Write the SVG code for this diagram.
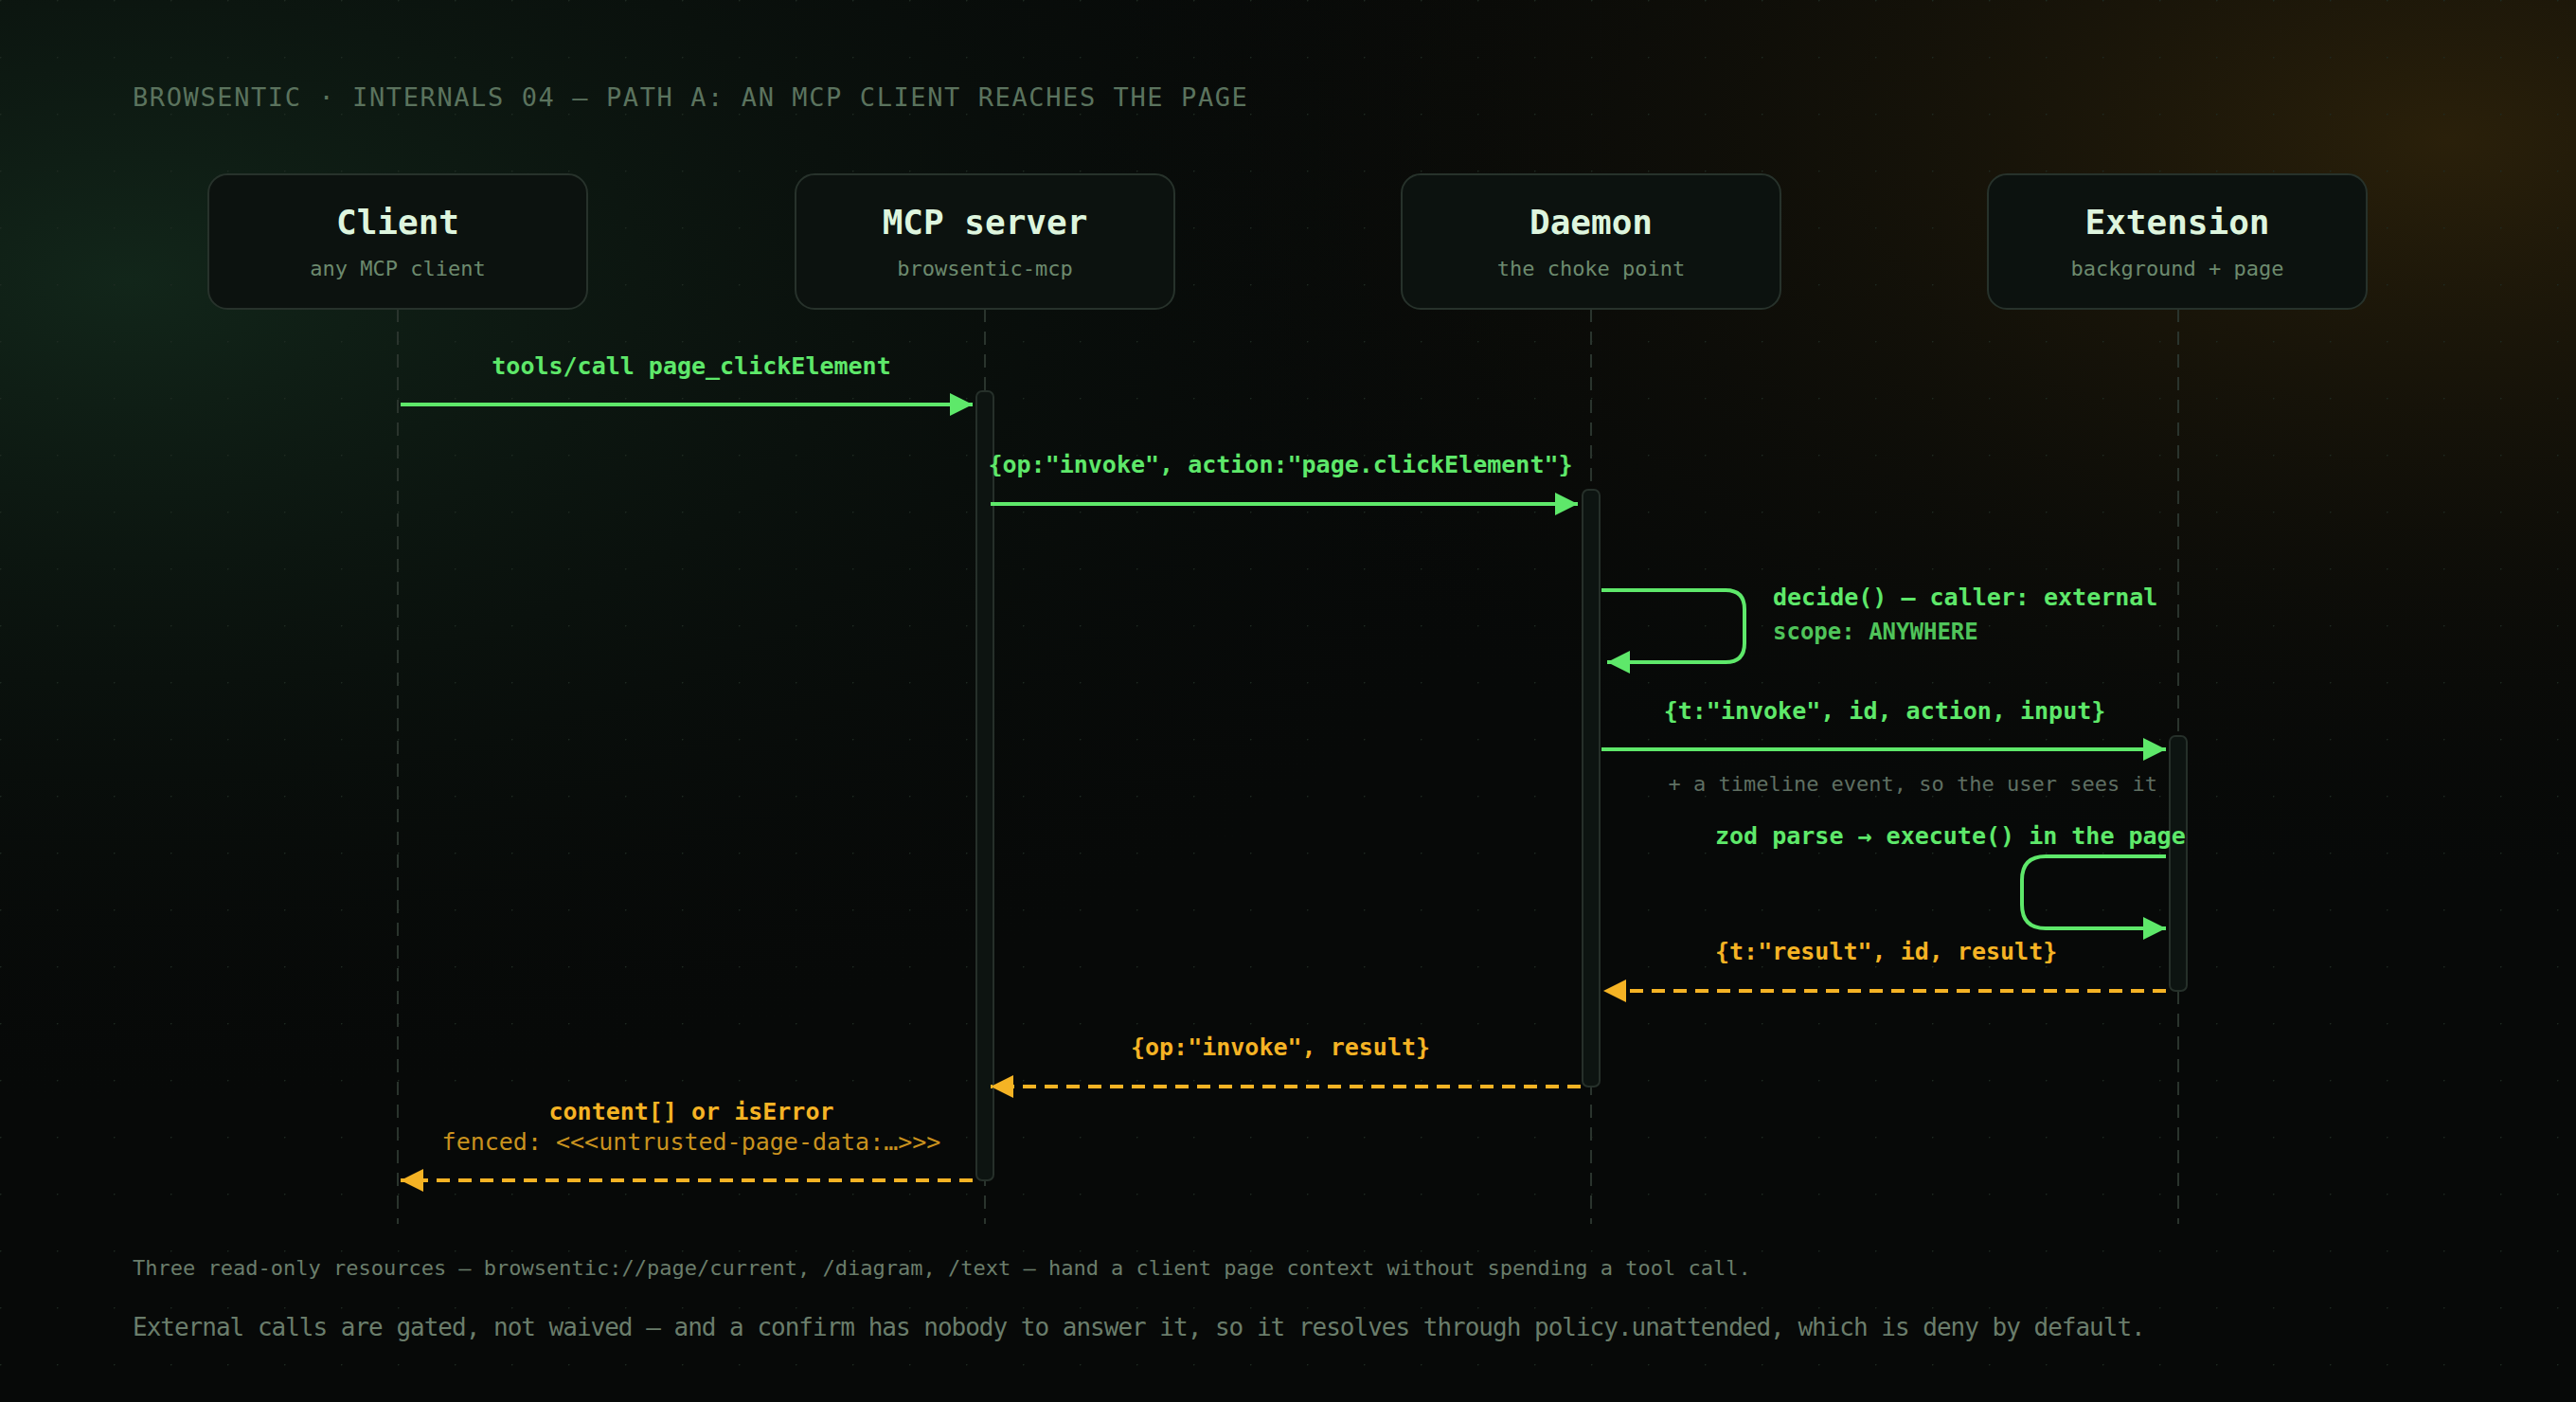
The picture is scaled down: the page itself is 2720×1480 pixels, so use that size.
<svg xmlns="http://www.w3.org/2000/svg" width="2720" height="1480" viewBox="0 0 2720 1480">
<defs>
<radialGradient id="gG" cx="0.05" cy="0.2" r="0.6"><stop offset="0" stop-color="#12261a"/><stop offset="1" stop-color="#070908" stop-opacity="0"/></radialGradient>
<radialGradient id="gA" cx="0.95" cy="0.1" r="0.55"><stop offset="0" stop-color="#2a200a"/><stop offset="1" stop-color="#070908" stop-opacity="0"/></radialGradient>
<pattern id="dots" width="60" height="60" patternUnits="userSpaceOnUse"><circle cx="0" cy="0" r="1.6" fill="#1e2a22"/></pattern>
<marker id="ag" viewBox="0 0 10 10" refX="10" refY="5" markerWidth="24" markerHeight="24" markerUnits="userSpaceOnUse" orient="auto"><path d="M0,0 L10,5 L0,10 Z" fill="#5ee86a"/></marker>
<marker id="ao" viewBox="0 0 10 10" refX="10" refY="5" markerWidth="24" markerHeight="24" markerUnits="userSpaceOnUse" orient="auto"><path d="M0,0 L10,5 L0,10 Z" fill="#f5b324"/></marker>
<style>
text{font-family:"DejaVu Sans Mono","Liberation Mono",monospace}
.box{fill:#0c120f;stroke:#27322b;stroke-width:2}
.nt{font-size:36px;font-weight:bold;fill:#def5de;text-anchor:middle}
.ns{font-size:22px;fill:#6c8a6e;text-anchor:middle}
.life{stroke:#2a342d;stroke-width:2;stroke-dasharray:14 10}
.bar{fill:#0d1411;stroke:#26302a;stroke-width:2}
.g{stroke:#5ee86a;stroke-width:4;fill:none}
.o{stroke:#f5b324;stroke-width:4;fill:none;stroke-dasharray:14 9}
.lg{font-size:25px;font-weight:bold;fill:#5ee86a}
.lo{font-size:25px;font-weight:bold;fill:#f5b324}
.c{text-anchor:middle}
.foot{fill:#6a7d6b}
</style>
</defs>
<rect width="2720" height="1480" fill="#070908"/>
<rect width="2720" height="1480" fill="url(#gG)"/>
<rect width="2720" height="1480" fill="url(#gA)"/>
<rect width="2720" height="1480" fill="url(#dots)"/>
<text x="140" y="112" font-size="27" fill="#5b735e" letter-spacing="1.6">BROWSENTIC · INTERNALS 04 — PATH A: AN MCP CLIENT REACHES THE PAGE</text>

<g id="lifelines">
<line class="life" x1="420" y1="326" x2="420" y2="1292"/>
<line class="life" x1="1040" y1="326" x2="1040" y2="1292"/>
<line class="life" x1="1680" y1="326" x2="1680" y2="1292"/>
<line class="life" x1="2300" y1="326" x2="2300" y2="1292"/>
</g>
<g id="client"><rect class="box" x="220" y="184" width="400" height="142" rx="20"/><text class="nt" x="420" y="247">Client</text><text class="ns" x="420" y="291">any MCP client</text></g>
<g id="mcp"><rect class="box" x="840" y="184" width="400" height="142" rx="20"/><text class="nt" x="1040" y="247">MCP server</text><text class="ns" x="1040" y="291">browsentic-mcp</text></g>
<g id="daemon"><rect class="box" x="1480" y="184" width="400" height="142" rx="20"/><text class="nt" x="1680" y="247">Daemon</text><text class="ns" x="1680" y="291">the choke point</text></g>
<g id="extension"><rect class="box" x="2099" y="184" width="400" height="142" rx="20"/><text class="nt" x="2299" y="247">Extension</text><text class="ns" x="2299" y="291">background + page</text></g>

<g id="activations">
<rect class="bar" x="1031" y="413" width="18" height="833" rx="6"/>
<rect class="bar" x="1671" y="517" width="18" height="630" rx="6"/>
<rect class="bar" x="2291" y="777" width="18" height="269" rx="6"/>
</g>

<g id="connectors">
<line class="g" x1="423" y1="427" x2="1027" y2="427" marker-end="url(#ag)"/>
<line class="g" x1="1046" y1="532" x2="1666" y2="532" marker-end="url(#ag)"/>
<path class="g" d="M1691,623 H1822 Q1842,623 1842,643 V679 Q1842,699 1822,699 H1697" marker-end="url(#ag)"/>
<line class="g" x1="1691" y1="791" x2="2287" y2="791" marker-end="url(#ag)"/>
<path class="g" d="M2287,904 H2160 Q2135,904 2135,929 V955 Q2135,980 2160,980 H2287" marker-end="url(#ag)"/>
<line class="o" x1="2287" y1="1046" x2="1693" y2="1046" marker-end="url(#ao)"/>
<line class="o" x1="1669" y1="1147" x2="1046" y2="1147" marker-end="url(#ao)"/>
<line class="o" x1="1027" y1="1246" x2="423" y2="1246" marker-end="url(#ao)"/>
</g>

<g id="labels">
<text class="lg c" x="730" y="395">tools/call page_clickElement</text>
<text class="lg c" x="1352" y="499">{op:"invoke", action:"page.clickElement"}</text>
<text class="lg" x="1872" y="639">decide() — caller: external</text>
<text x="1872" y="675" font-size="24" font-weight="bold" fill="#4fc45a">scope: ANYWHERE</text>
<text class="lg c" x="1990" y="759">{t:"invoke", id, action, input}</text>
<text x="2278" y="835" font-size="22" fill="#5f6f62" text-anchor="end">+ a timeline event, so the user sees it</text>
<text class="lg" x="1811" y="891">zod parse → execute() in the page</text>
<text class="lo" x="1811" y="1013">{t:"result", id, result}</text>
<text class="lo c" x="1352" y="1114">{op:"invoke", result}</text>
<text class="lo c" x="730" y="1182">content[] or isError</text>
<text x="730" y="1214" font-size="25" fill="#c9921e" text-anchor="middle">fenced: &lt;&lt;&lt;untrusted-page-data:…&gt;&gt;&gt;</text>
</g>

<text class="foot" x="140" y="1346" font-size="22">Three read-only resources — browsentic://page/current, /diagram, /text — hand a client page context without spending a tool call.</text>
<text class="foot" x="140" y="1410" font-size="26" letter-spacing="-1">External calls are gated, not waived — and a confirm has nobody to answer it, so it resolves through policy.unattended, which is deny by default.</text>
</svg>
